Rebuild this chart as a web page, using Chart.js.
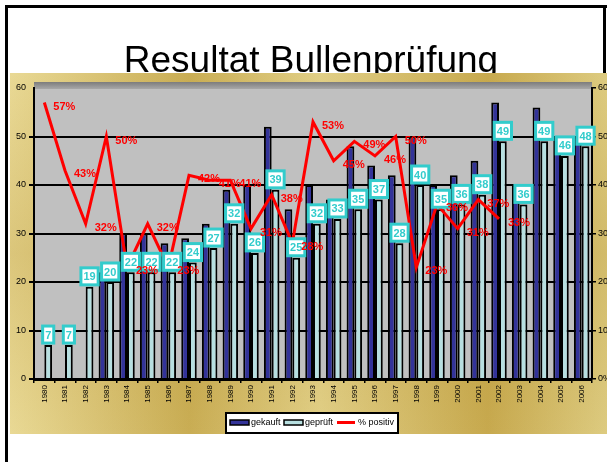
<!DOCTYPE html>
<html>
<head>
<meta charset="utf-8">
<title>Resultat Bullenprüfung</title>
<script src="https://cdn.jsdelivr.net/npm/chart.js@4.4.1/dist/chart.umd.min.js"></script>
<style>
  html, body { margin: 0; padding: 0; background: #fff; }
  #wrap { width: 607px; height: 462px; }
</style>
</head>
<body>
<div id="wrap"><canvas id="chBullen" width="607" height="462"></canvas></div>
<script>
// values
var years = ["1980", "1981", "1982", "1983", "1984", "1985", "1986", "1987", "1988", "1989",
  "1990", "1991", "1992", "1993", "1994", "1995", "1996", "1997", "1998", "1999",
  "2000", "2001", "2002", "2003", "2004", "2005", "2006"];
var gekauft = [null, null, null, 22, 30, 30, 28, 29, 32, 39, 40, 52, 35, 40, 37, 48, 44, 42, 50, 40, 42, 45, 57, 40, 56, 50, 50];
var geprueft = [7, 7, 19, 20, 22, 22, 22, 24, 27, 32, 26, 39, 25, 32, 33, 35, 37, 28, 40, 35, 36, 38, 49, 36, 49, 46, 48];
var positiv = [57, 43, 32, 50, 23, 32, 23, 42, 41, 41, 31, 38, 28, 53, 45, 49, 46, 50, 23, 36, 31, 37, 33, null, null, null, null];

var FONT = "Arial, 'Liberation Sans', sans-serif";

// background, frame, title, gold panel and grey plot wall
var backdrop = {
  id: "backdrop",
  beforeDraw: function (chart) {
    var ctx = chart.ctx;
    var a = chart.chartArea;
    ctx.save();
    ctx.fillStyle = "#fff";
    ctx.fillRect(0, 0, chart.width, chart.height);

    // black frame (left, top, right)
    ctx.fillStyle = "#000";
    ctx.fillRect(5, 5, 3, chart.height - 5);
    ctx.fillRect(5, 5, chart.width - 5, 3);
    ctx.fillRect(603, 5, 3, 70);

    // title
    ctx.fillStyle = "#000";
    ctx.font = "37px " + FONT;
    ctx.textAlign = "center";
    ctx.textBaseline = "alphabetic";
    ctx.fillText("Resultat Bullenprüfung", 311, 72);

    // gold panel
    var g = ctx.createLinearGradient(10, 0, 607, 0);
    g.addColorStop(0, "#e9d995");
    g.addColorStop(0.3, "#c9ad54");
    g.addColorStop(0.52, "#e1cf86");
    g.addColorStop(0.8, "#c7a94e");
    g.addColorStop(1, "#ddcb80");
    ctx.fillStyle = g;
    ctx.fillRect(10, 73, 597, 361);
    var v = ctx.createLinearGradient(0, 73, 0, 434);
    v.addColorStop(0, "rgba(170,130,30,0)");
    v.addColorStop(0.5, "rgba(170,130,30,0.22)");
    v.addColorStop(1, "rgba(170,130,30,0)");
    ctx.fillStyle = v;
    ctx.fillRect(10, 73, 597, 361);

    // grey wall with darker top edge
    ctx.fillStyle = "#c0c0c0";
    ctx.fillRect(a.left, a.top - 6, a.right - a.left, a.bottom - a.top + 6);
    var t = ctx.createLinearGradient(0, a.top - 6, 0, a.top + 1);
    t.addColorStop(0, "#7c7c7c");
    t.addColorStop(1, "#a8a8a8");
    ctx.fillStyle = t;
    ctx.fillRect(a.left, a.top - 6, a.right - a.left, 7);
    ctx.restore();
  }
};

// value boxes on the geprueft bars, percent labels on the line, legend
var labels = {
  id: "labels",
  afterDatasetsDraw: function (chart) {
    var ctx = chart.ctx;
    ctx.save();

    // cyan boxed labels
    var bars = chart.getDatasetMeta(1).data;
    ctx.font = "bold 11px " + FONT;
    ctx.textAlign = "center";
    ctx.textBaseline = "middle";
    bars.forEach(function (bar, i) {
      var txt = String(geprueft[i]);
      var w = ctx.measureText(txt).width + 5;
      var h = 17;
      var x = bar.x - w / 2;
      var y = bar.y - 2 - h;
      ctx.fillStyle = "#fff";
      ctx.fillRect(x, y, w, h);
      ctx.strokeStyle = "#33cccc";
      ctx.lineWidth = 3;
      ctx.strokeRect(x, y, w, h);
      ctx.fillStyle = "#33cccc";
      ctx.fillText(txt, bar.x, y + h / 2 + 1);
    });

    // red percent labels
    var pts = chart.getDatasetMeta(2).data;
    ctx.font = "bold 11px " + FONT;
    ctx.textAlign = "left";
    ctx.fillStyle = "#ff0000";
    pts.forEach(function (p, i) {
      if (positiv[i] == null) return;
      ctx.fillText(positiv[i] + "%", p.x + 9, p.y + 4);
    });

    // legend
    ctx.fillStyle = "#fff";
    ctx.fillRect(226, 413, 172, 20);
    ctx.strokeStyle = "#000";
    ctx.lineWidth = 2;
    ctx.strokeRect(226, 413, 172, 20);
    ctx.lineWidth = 1.5;
    ctx.fillStyle = "#333399";
    ctx.fillRect(230, 420, 19, 5);
    ctx.strokeRect(230, 420, 19, 5);
    ctx.fillStyle = "#b7dfe0";
    ctx.fillRect(284, 420, 19, 5);
    ctx.strokeRect(284, 420, 19, 5);
    ctx.strokeStyle = "#ff0000";
    ctx.lineWidth = 3;
    ctx.beginPath();
    ctx.moveTo(337, 422.5);
    ctx.lineTo(355, 422.5);
    ctx.stroke();
    ctx.fillStyle = "#000";
    ctx.font = "9px " + FONT;
    ctx.textBaseline = "middle";
    ctx.fillText("gekauft", 251, 423);
    ctx.fillText("geprüft", 305, 423);
    ctx.fillText("% positiv", 358, 423);
    ctx.restore();
  }
};

var chBullen = document.getElementById("chBullen");
if (chBullen) {
  new Chart(chBullen, {
    type: "bar",
    data: {
      labels: years,
      datasets: [
        { label: "gekauft", data: gekauft, backgroundColor: "#333399", borderColor: "#000", borderWidth: 2, order: 1 },
        { label: "geprüft", data: geprueft, backgroundColor: "#b7dfe0", borderColor: "#000", borderWidth: 2, order: 1 },
        {
          type: "line", label: "% positiv", data: positiv, yAxisID: "y1",
          borderColor: "#ff0000", borderWidth: 3, pointRadius: 0, fill: false, tension: 0, order: 0
        }
      ]
    },
    options: {
      responsive: false,
      animation: false,
      layout: { padding: { top: 88, left: 10, right: 0, bottom: 0 } },
      datasets: { bar: { categoryPercentage: 0.75, barPercentage: 1 } },
      plugins: {
        legend: { display: false },
        title: { display: false },
        tooltip: { enabled: false }
      },
      scales: {
        x: {
          grid: { offset: true, drawOnChartArea: false, color: "#000", lineWidth: 1.5, tickLength: 4 },
          border: { color: "#000", width: 3 },
          ticks: {
            color: "#000", autoSkip: false, minRotation: 90, maxRotation: 90, padding: 2,
            font: { family: FONT, size: 8 }
          },
          afterFit: function (s) { s.height = 83; }
        },
        y: {
          min: 0, max: 60,
          ticks: { stepSize: 10, color: "#000", padding: 3, font: { family: FONT, size: 9 } },
          grid: {
            lineWidth: 2, tickLength: 5,
            color: function (c) { return c.tick && c.tick.value === 60 ? "rgba(0,0,0,0)" : "#000"; }
          },
          border: { color: "#000", width: 2 },
          afterFit: function (s) { s.width = 24; }
        },
        y1: {
          position: "right", min: 0, max: 60,
          ticks: {
            stepSize: 10, color: "#000", padding: 2, font: { family: FONT, size: 9 },
            callback: function (v) { return v + "%"; }
          },
          grid: { drawOnChartArea: false, color: "#000", lineWidth: 1.5, tickLength: 4 },
          border: { color: "#000", width: 2 },
          afterFit: function (s) { s.width = 15; }
        }
      }
    },
    plugins: [backdrop, labels]
  });
}
</script>
</body>
</html>
